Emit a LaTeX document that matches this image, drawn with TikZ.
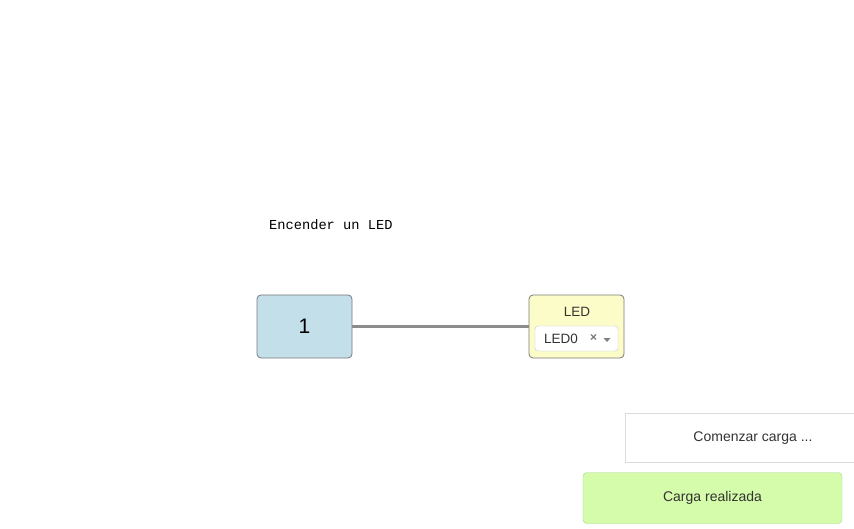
\documentclass[tikz,border=0pt]{standalone}
\usepackage{fontspec}
\usetikzlibrary{calc}
\setmainfont{Liberation Sans}
\newfontfamily\monof{Liberation Mono}
\definecolor{blk1}{HTML}{C2DFEA}
\definecolor{ledy}{HTML}{FCFCC8}
\definecolor{grn}{HTML}{D4FCAA}
\definecolor{grnb}{HTML}{A9D98C}
\definecolor{bord}{HTML}{7A7A7A}
\definecolor{txt}{HTML}{333333}
\tikzset{
  blockbox/.style={draw=bord, line width=0.8pt, rounded corners=4pt, minimum width=95pt, minimum height=63pt, inner sep=0pt},
  lbl/.style={inner sep=0pt, text=txt},
}
\begin{document}
\begin{tikzpicture}[x=1pt,y=-1pt]
\useasboundingbox[fill=white] (0,0) rectangle (854,529);
\node[lbl, anchor=west, text=black, font=\monof\fontsize{13.7}{15}\selectfont] (title) at (269,224.5) {Encender un LED};
\node[blockbox, fill=blk1, font=\fontsize{21}{24}\selectfont] (one) at (304.5,326.5) {1};
\node[blockbox, fill=ledy] (led) at (576.5,326.5) {};
\node[lbl, font=\fontsize{13.5}{15}\selectfont] (ledt) at (577,311.5) {LED};
\node[draw=black!22, fill=white, rounded corners=3pt, minimum width=83pt, minimum height=25pt, inner sep=0pt] (dd) at (576.5,338.5) {};
\node[lbl, anchor=west, font=\fontsize{13.5}{15}\selectfont] (ledz) at (544,339) {LED0};
\node[lbl, text=black!55, font=\bfseries\fontsize{12}{13}\selectfont] (x) at (593.5,338.5) {×};
\coordinate (tri) at (607,340);
\fill[black!50] ($(tri)+(-3.5,-2)$) -- ($(tri)+(3.5,-2)$) -- ($(tri)+(0,2)$) -- cycle;
\draw[black!45, line width=2pt] (one.east) -- (led.west);
\node[draw=black!14, fill=white, minimum width=240pt, minimum height=49pt, inner sep=0pt, anchor=north west] (start) at (624.5,412.5) {};
\node[lbl, font=\fontsize{14}{16}\selectfont] (startt) at (753,438) {Comenzar carga ...};
\node[draw=grnb, fill=grn, rounded corners=4pt, minimum width=259pt, minimum height=51pt, inner sep=0pt, font=\fontsize{14}{16}\selectfont, text=txt] (done) at (712.5,498) {Carga realizada};
\end{tikzpicture}
\end{document}
